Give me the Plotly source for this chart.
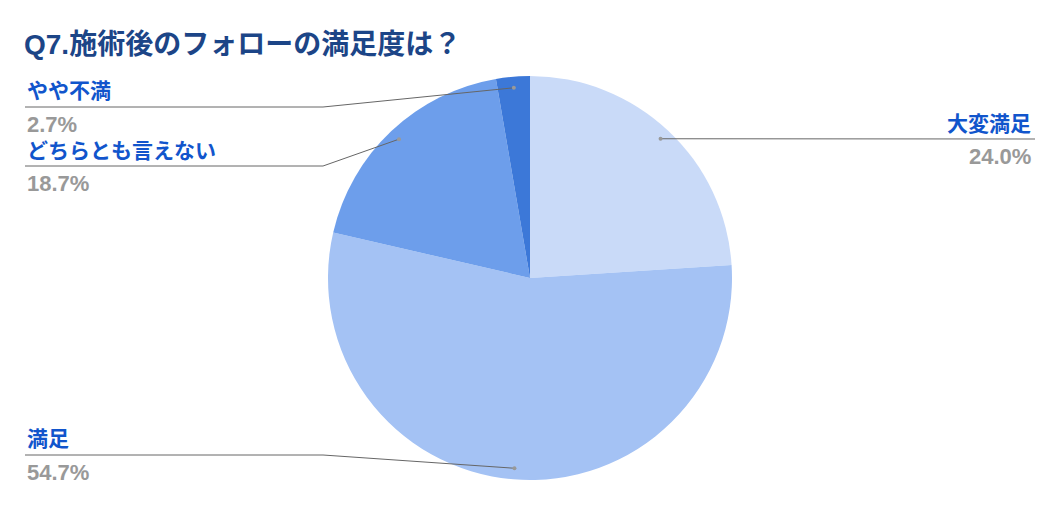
import math
import plotly.graph_objects as go

# data
labels = ["大変満足", "満足", "どちらとも言えない", "やや不満"]
values = [24.0, 54.7, 18.7, 2.7]
colors = ["#c9daf8", "#a4c2f4", "#6d9eeb", "#3c78d8"]

W, H = 1060, 506
top, bottom = 76, 480          # pie vertical extent in px
cx, cy = W / 2, (top + bottom) / 2
R = (bottom - top) / 2

fig = go.Figure()

fig.add_trace(go.Pie(
    labels=labels, values=values, sort=False, direction="clockwise",
    marker=dict(colors=colors, line=dict(width=0)),
    textinfo="none", hoverinfo="label+percent", showlegend=False,
    domain=dict(x=[0, 1], y=[(H - bottom) / H, (H - top) / H]),
))

# leader lines: (label side, line y, label y, pct y)
label_pos = {
    "大変満足": ("right", 139, 123, 156),
    "満足": ("left", 455, 438, 472),
    "どちらとも言えない": ("left", 166, 150, 183),
    "やや不満": ("left", 107, 90, 124),
}

total = sum(values)
cum = 0
for lab, v in zip(labels, values):
    mid = (cum + v / 2) / total * 2 * math.pi
    cum += v
    dx = cx + 0.945 * R * math.sin(mid)
    dy = cy - 0.945 * R * math.cos(mid)
    side, ly, ty, py = label_pos[lab]
    if side == "right":
        path = "M %f,%f L 1035,%f" % (dx, dy, ly)
        ax, anchor, sh = 1035, "right", -2
    else:
        path = "M %f,%f L 323,%f L 25,%f" % (dx, dy, ly, ly)
        ax, anchor, sh = 25, "left", 0
    # leader line and dot drawn above the pie
    fig.add_shape(type="path", path=path, xref="x", yref="y", layer="above",
                  line=dict(color="#666666", width=1))
    fig.add_shape(type="circle", xref="x", yref="y", layer="above",
                  x0=dx - 2, x1=dx + 2, y0=dy - 2, y1=dy + 2,
                  fillcolor="#999999", line=dict(width=0))
    fig.add_annotation(x=ax, y=ty, text="<b>%s</b>" % lab, showarrow=False, xanchor=anchor,
                       yanchor="middle", xshift=sh, font=dict(size=21, color="#1155cc"))
    fig.add_annotation(x=ax, y=py, text="<b>%.1f%%</b>" % v, showarrow=False, xanchor=anchor,
                       yanchor="middle", xshift=sh, font=dict(size=22, color="#999999"))

fig.add_annotation(x=24, y=44, text="<b>Q7.施術後のフォローの満足度は？</b>", showarrow=False,
                   xanchor="left", yanchor="middle", xshift=-2, font=dict(size=28, color="#1c4587"))

fig.update_layout(
    width=W, height=H,
    margin=dict(l=0, r=0, t=0, b=0),
    paper_bgcolor="white", plot_bgcolor="white",
    font=dict(family="Liberation Sans, Noto Sans CJK JP, sans-serif"),
    xaxis=dict(range=[0, W], visible=False, fixedrange=True),
    yaxis=dict(range=[H, 0], visible=False, fixedrange=True),
)

# drop the default page margin so the figure sits at the window's corner
fig.write_html("out.html", config={"displayModeBar": False},
               post_script="document.body.style.margin='0px';")
